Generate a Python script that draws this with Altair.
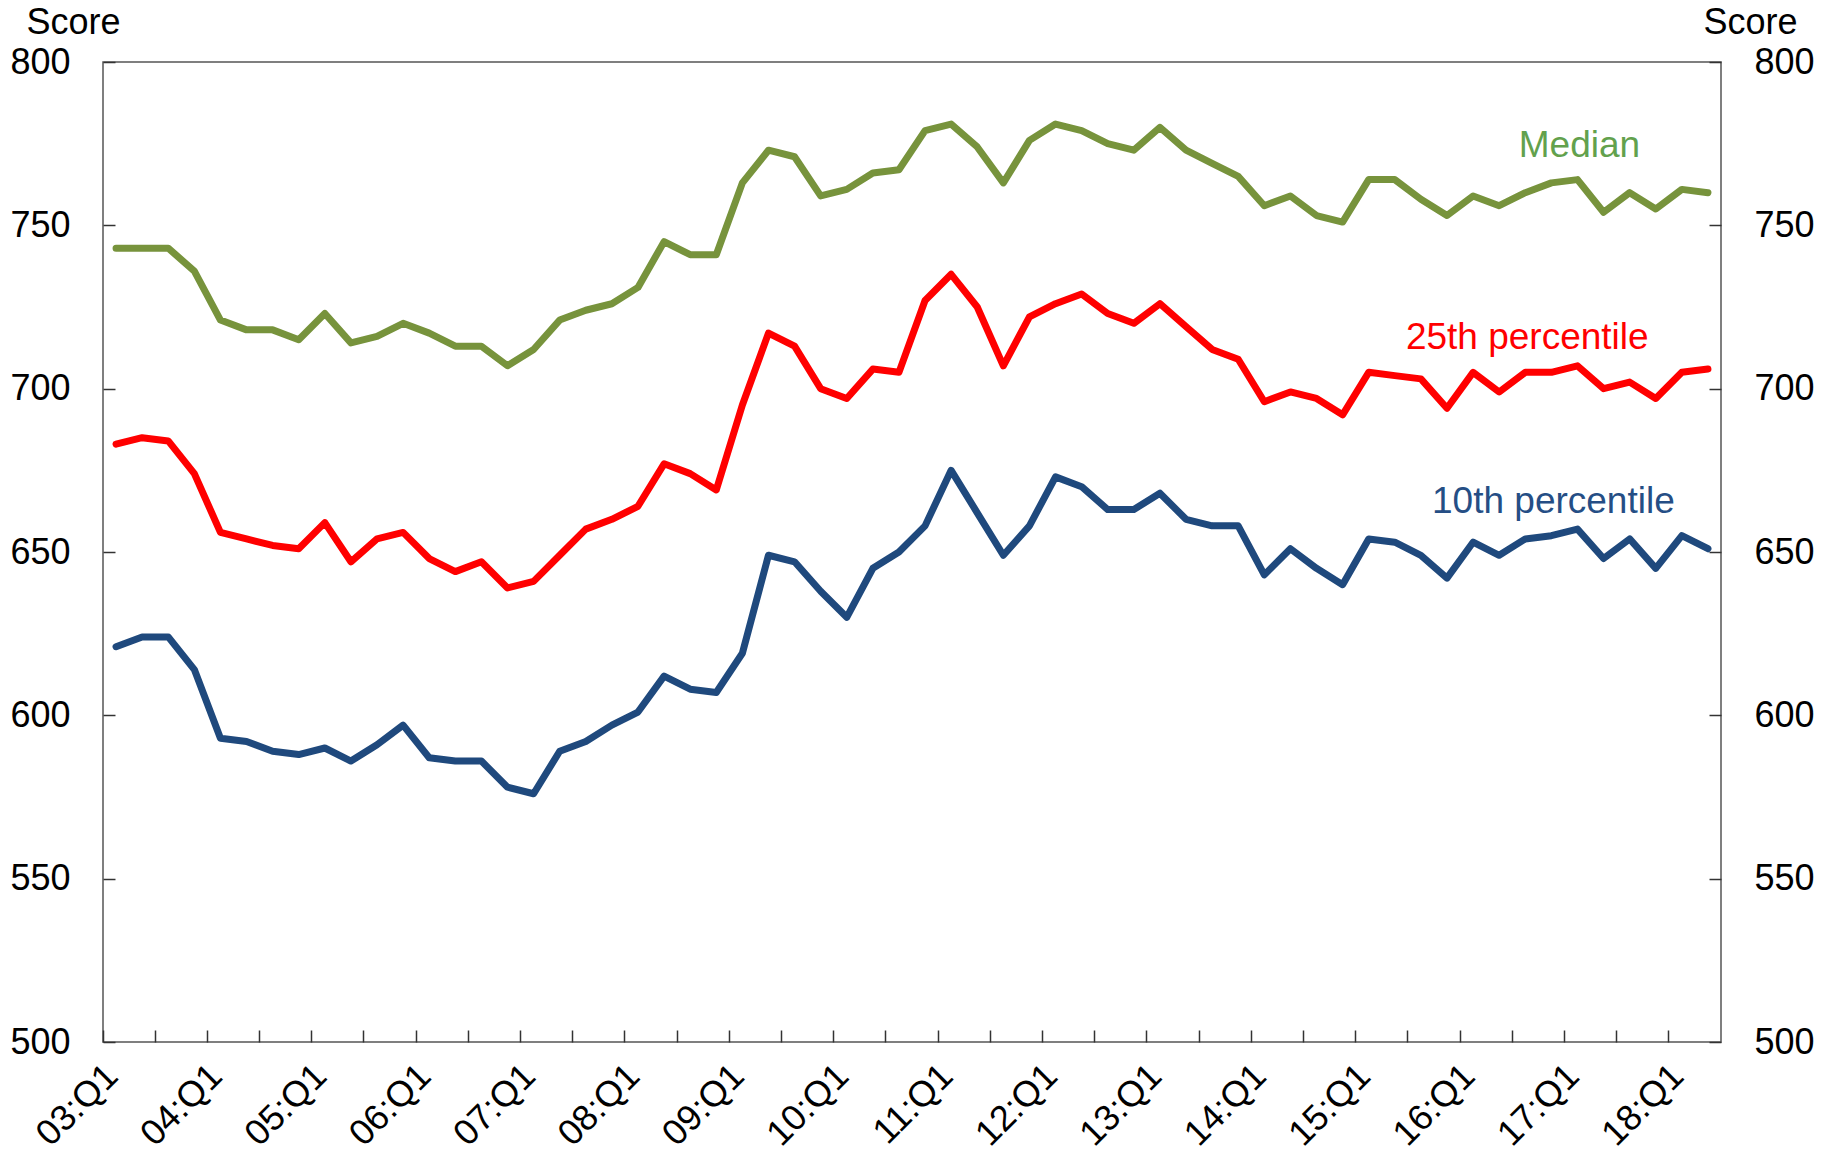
import pandas as pd
import altair as alt

# quarters 03:Q1 .. 18:Q2
quarters = [f"{y:02d}:Q{q}" for y in range(3, 19) for q in range(1, 5)][:62]

median = [743, 743, 743, 736, 721, 718, 718, 715, 723, 714, 716, 720, 717, 713, 713, 707, 712, 721, 724, 726, 731,
          745, 741, 741, 763, 773, 771, 759, 761, 766, 767, 779, 781, 774, 763, 776, 781, 779, 775, 773, 780, 773,
          769, 765, 756, 759, 753, 751, 764, 764, 758, 753, 759, 756, 760, 763, 764, 754, 760, 755, 761, 760]
p25 = [683, 685, 684, 674, 656, 654, 652, 651, 659, 647, 654, 656, 648, 644, 647, 639, 641, 649, 657, 660, 664,
       677, 674, 669, 695, 717, 713, 700, 697, 706, 705, 727, 735, 725, 707, 722, 726, 729, 723, 720, 726, 719,
       712, 709, 696, 699, 697, 692, 705, 704, 703, 694, 705, 699, 705, 705, 707, 700, 702, 697, 705, 706]
p10 = [621, 624, 624, 614, 593, 592, 589, 588, 590, 586, 591, 597, 587, 586, 586, 578, 576, 589, 592, 597, 601,
       612, 608, 607, 619, 649, 647, 638, 630, 645, 650, 658, 675, 662, 649, 658, 673, 670, 663, 663, 668, 660,
       658, 658, 643, 651, 645, 640, 654, 653, 649, 642, 653, 649, 654, 655, 657, 648, 654, 645, 655, 651]

series = ['Median', '25th percentile', '10th percentile']
line_colors = ['#77933C', '#FF0000', '#1F497D']

# series labels inside the plot
label_text = ['Median', '25th percentile', '10th percentile']
label_quarter = ['17:Q1', '16:Q3', '16:Q4']
label_score = [771, 712, 662]
label_colors = ['#62A14D', '#FF0000', '#254E85']

df = pd.DataFrame({'Quarter': quarters, 'Median': median,
                   '25th percentile': p25, '10th percentile': p10})
df = df.melt(id_vars=['Quarter'], var_name='Series', value_name='Score')

labels = pd.DataFrame({'Quarter': label_quarter, 'Score': label_score, 'Text': label_text})

FONT = 'Liberation Sans'

x_enc = alt.X('Quarter:O',
              scale=alt.Scale(type='band', domain=quarters, paddingInner=0, paddingOuter=0),
              bandPosition=0.5,
              axis=alt.Axis(values=quarters[::2],
                            labelExpr="indexof(datum.label, 'Q1') >= 0 ? datum.label : ''",
                            bandPosition=0,
                            labelOffset=-16,
                            labelAngle=-45,
                            labelAlign='right',
                            labelBaseline='top',
                            labelPadding=16,
                            labelFontSize=36,
                            labelFont=FONT,
                            labelColor='black',
                            labelOverlap=False,
                            labelBound=False,
                            tickSize=12,
                            tickColor='#333333',
                            tickWidth=1.5,
                            offset=-12,
                            domain=False,
                            grid=False,
                            title=None))

y_scale = alt.Scale(domain=[500, 800], nice=False, zero=False)


def y_axis(side, title_x):
    return alt.Axis(orient=side,
                    values=[500, 550, 600, 650, 700, 750, 800],
                    labelFontSize=36,
                    labelFont=FONT,
                    labelColor='black',
                    labelPadding=33,
                    tickSize=12,
                    tickColor='#333333',
                    tickWidth=1.5,
                    offset=-12,
                    domain=False,
                    grid=False,
                    title='Score',
                    titleFont=FONT,
                    titleFontSize=36,
                    titleFontWeight='normal',
                    titleColor='black',
                    titleAngle=0,
                    titleAlign='center',
                    titleBaseline='alphabetic',
                    titleX=title_x,
                    titleY=-29)


lines = alt.Chart(df).mark_line(strokeWidth=7, strokeJoin='round', strokeCap='round').encode(
    x=x_enc,
    y=alt.Y('Score:Q', scale=y_scale, axis=y_axis('left', -42)),
    color=alt.Color('Series:N', scale=alt.Scale(domain=series, range=line_colors), legend=None),
    detail='Series:N'
)

right = alt.Chart(df).mark_line(opacity=0).encode(
    x=alt.X('Quarter:O', bandPosition=0.5),
    y=alt.Y('Score:Q', scale=y_scale, axis=y_axis('right', 41)),
    detail='Series:N'
)

text = alt.Chart(labels).mark_text(fontSize=37, font=FONT, align='center', baseline='alphabetic', dx=2).encode(
    x=alt.X('Quarter:O', bandPosition=0.5),
    y=alt.Y('Score:Q', scale=y_scale, axis=None),
    text='Text:N',
    color=alt.Color('Text:N', scale=alt.Scale(domain=label_text, range=label_colors), legend=None)
)

chart = alt.layer(lines, right, text).resolve_axis(
    y='independent'
).resolve_scale(
    color='independent'
).properties(
    width=1618,
    height=980,
    padding={'left': 95, 'top': 54, 'right': 100, 'bottom': 108},
    autosize=alt.AutoSizeParams(type='none')
).configure_view(
    stroke='#555555',
    strokeWidth=1.5
)

chart.save('out.html', embed_options={'renderer': 'svg', 'actions': False})
